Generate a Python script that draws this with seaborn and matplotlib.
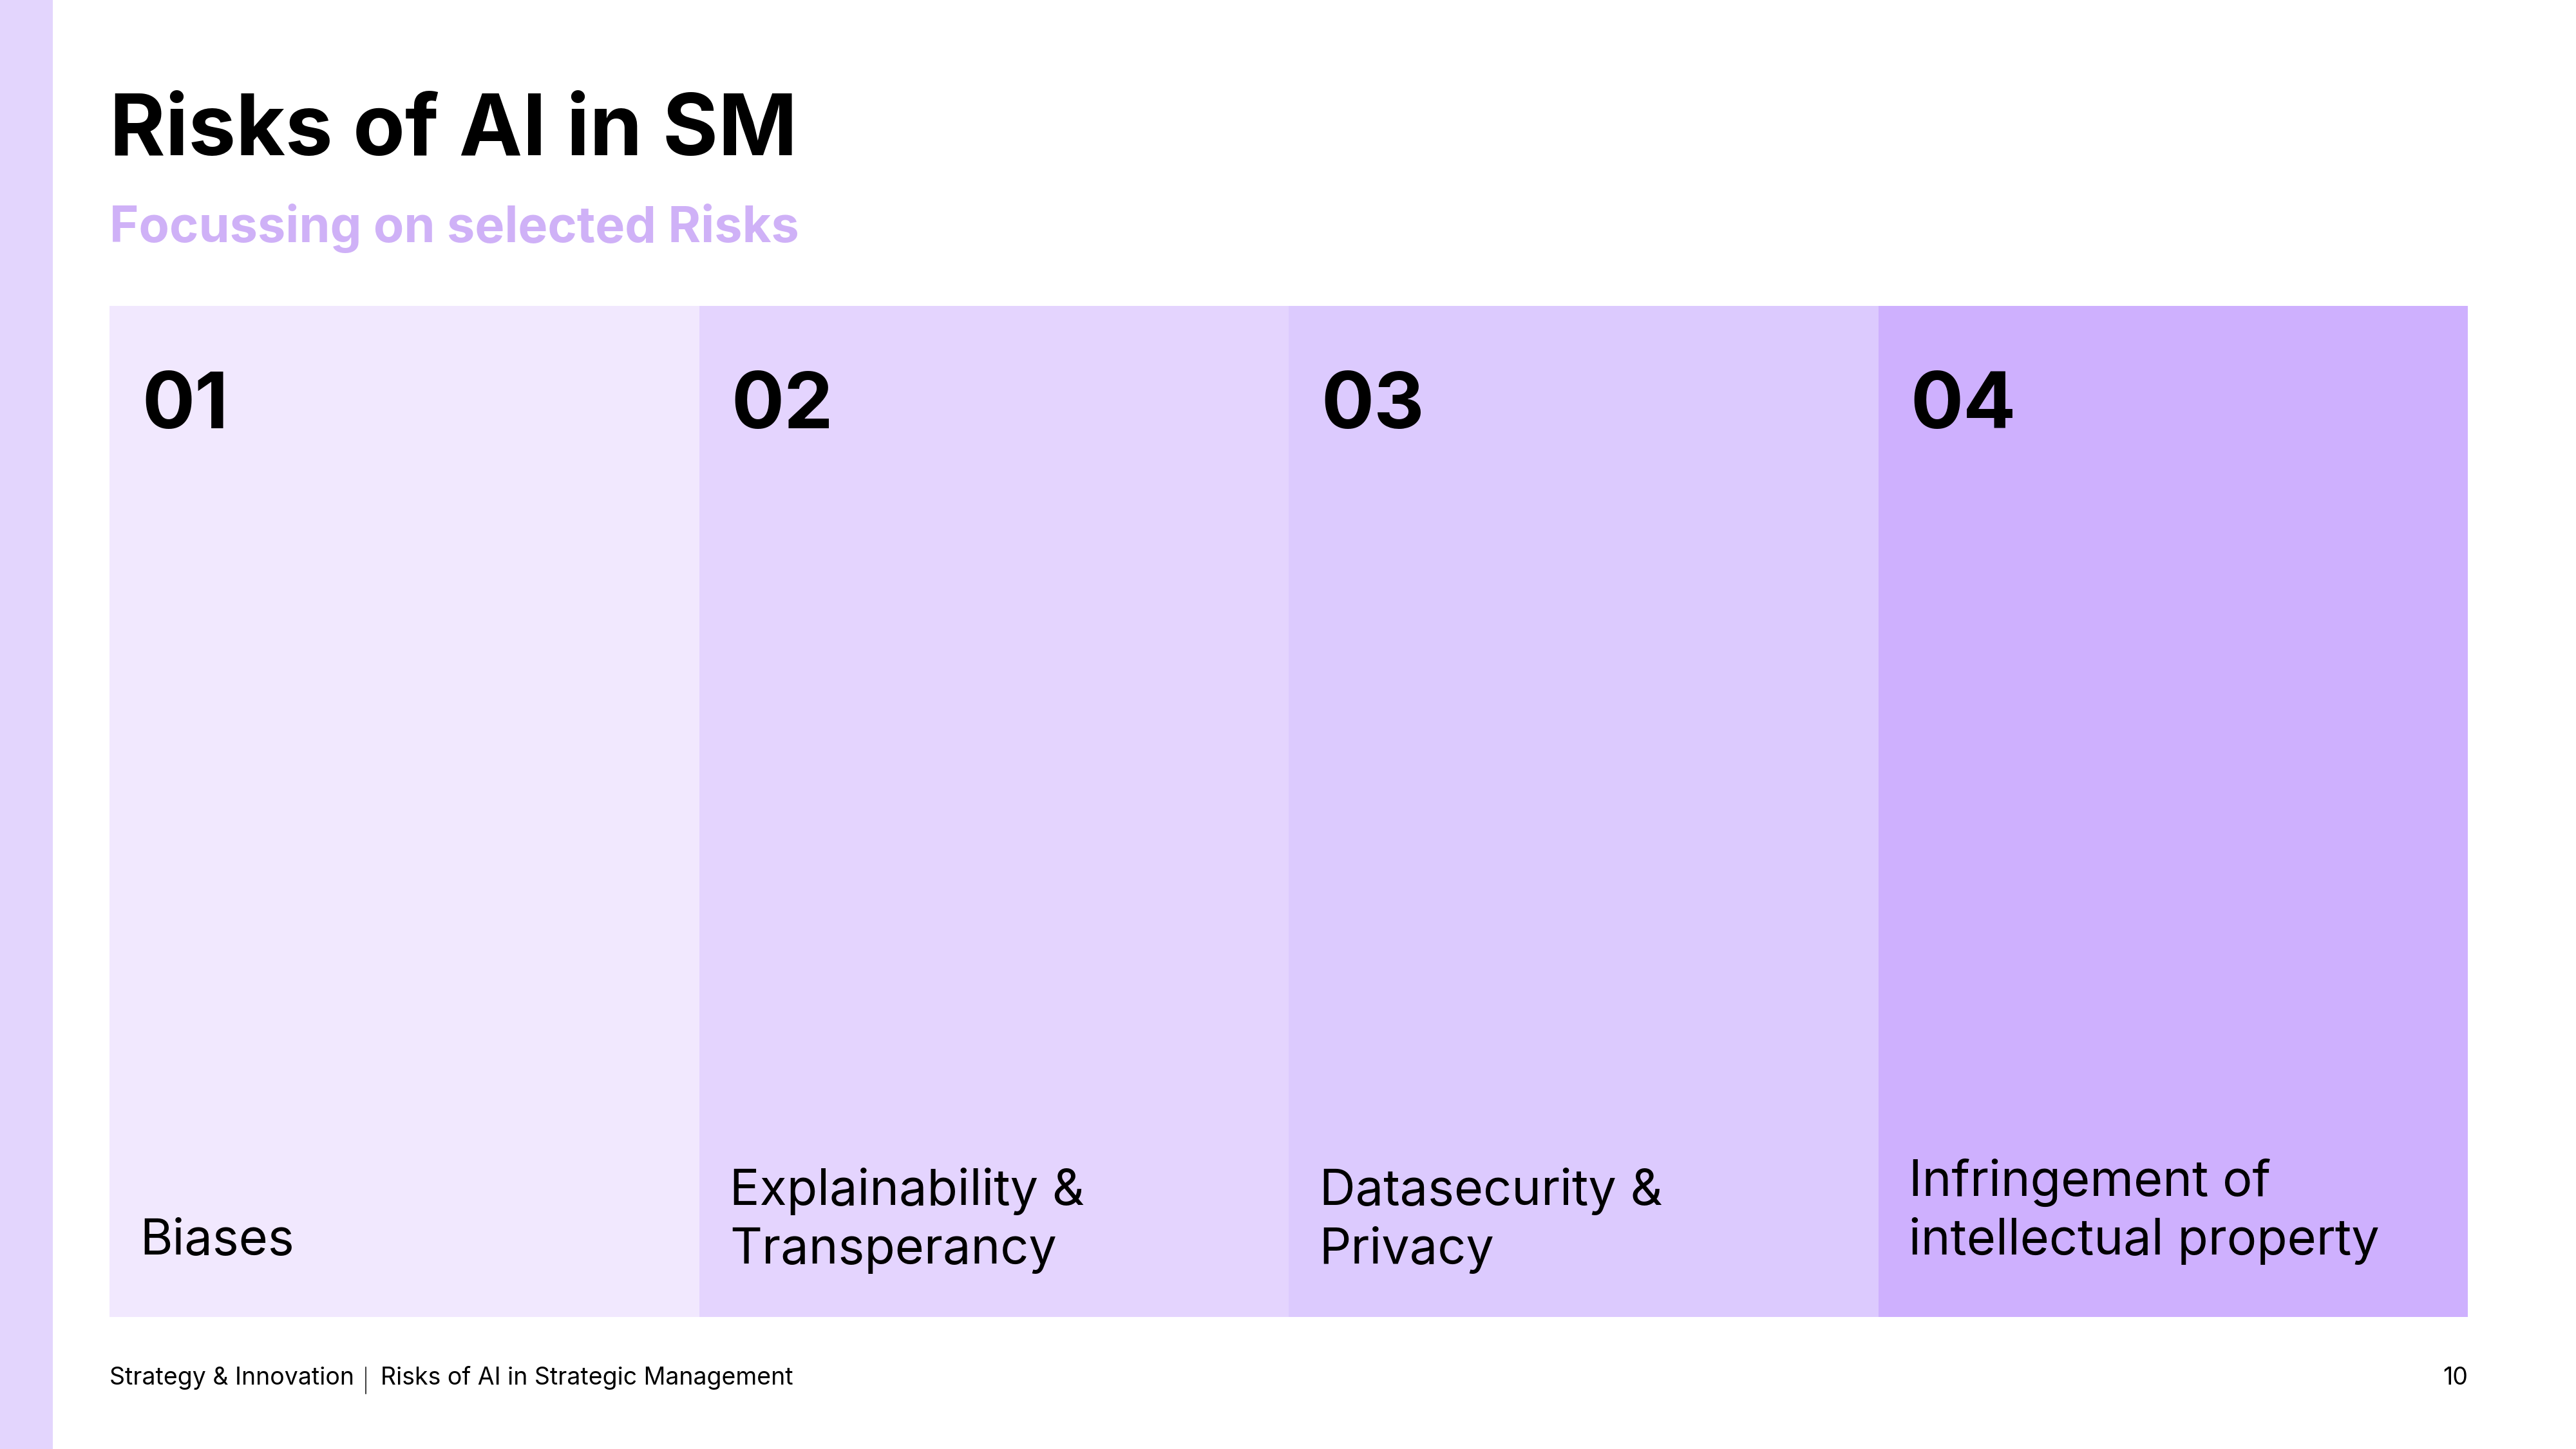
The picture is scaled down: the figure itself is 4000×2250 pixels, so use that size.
import matplotlib
matplotlib.use("Agg")
import matplotlib.pyplot as plt
import seaborn as sns

# slide content
title = "Risks of AI in SM"
subtitle = "Focussing on selected Risks"
numbers = ["01", "02", "03", "04"]
risks = ["Biases", "Explainability &\nTransperancy", "Datasecurity &\nPrivacy",
         "Infringement of\nintellectual property"]
heights = [1, 1, 1, 1]
colors = ["#f1e8fe", "#e4d4fe", "#dccafe", "#ceb0fe"]
footer_left = "Strategy & Innovation"
footer_right = "Risks of AI in Strategic Management"
page = "10"

sns.set_theme(style="white")
plt.rcParams["font.family"] = ["Inter", "DejaVu Sans"]

W, H = 4000, 2250
fig = plt.figure(figsize=(16, 9), dpi=250)
fig.patch.set_facecolor("white")

# left accent stripe
stripe = fig.add_axes([0, 0, 0.0205, 1])
stripe.set_facecolor("#e3d5fd")
stripe.set_xticks([])
stripe.set_yticks([])
for s in stripe.spines.values():
    s.set_visible(False)

ax = fig.add_axes([0.0425, 0.0911, 0.9155, 0.6978])
sns.barplot(x=numbers, y=heights, hue=numbers, palette=colors, width=1,
            saturation=1, linewidth=0, legend=False, ax=ax)
ax.set_xlim(-0.5, len(numbers) - 0.5)
ax.set_ylim(0, 1)
ax.axis("off")

# baseline of last text line per column (axes fraction)
last_base = [0.0618, 0.0529, 0.0529, 0.0618]
line_gap = 0.058
for i, (num, risk) in enumerate(zip(numbers, risks)):
    x = i - 0.5 + 0.052
    ax.text(x + 0.003, 0.879, num, fontsize=35, fontweight="bold", color="black",
            va="baseline", ha="left", transform=ax.get_xaxis_transform())
    lines = risk.split("\n")
    for j, line in enumerate(lines):
        y = last_base[i] + (len(lines) - 1 - j) * line_gap
        ax.text(x, y, line, fontsize=22.3, color="black", va="baseline",
                ha="left", transform=ax.get_xaxis_transform())

fig.text(0.0425, 0.8929, title, fontsize=38, fontweight="bold", color="black",
         va="baseline", ha="left")
fig.text(0.0425, 0.8329, subtitle, fontsize=22.3, fontweight="bold",
         color="#cfb1f7", va="baseline", ha="left")

# footer
fy = 1 - 2150 / H
t_left = fig.text(0.0425, fy, footer_left, fontsize=10.8, color="black",
                  va="baseline", ha="left")
renderer = fig.canvas.get_renderer()
x_end = t_left.get_window_extent(renderer).x1
sep_x = (x_end + 18) / W
fig.add_artist(plt.Line2D([sep_x, sep_x], [1 - 2164 / H, 1 - 2123 / H],
                          color="#444444", linewidth=0.6))
fig.text(sep_x + 23 / W, fy, footer_right, fontsize=10.8, color="black",
         va="baseline", ha="left")
fig.text(0.958, fy, page, fontsize=10.8, color="black",
         va="baseline", ha="right")

fig.savefig("out.png", dpi=250, facecolor="white")
